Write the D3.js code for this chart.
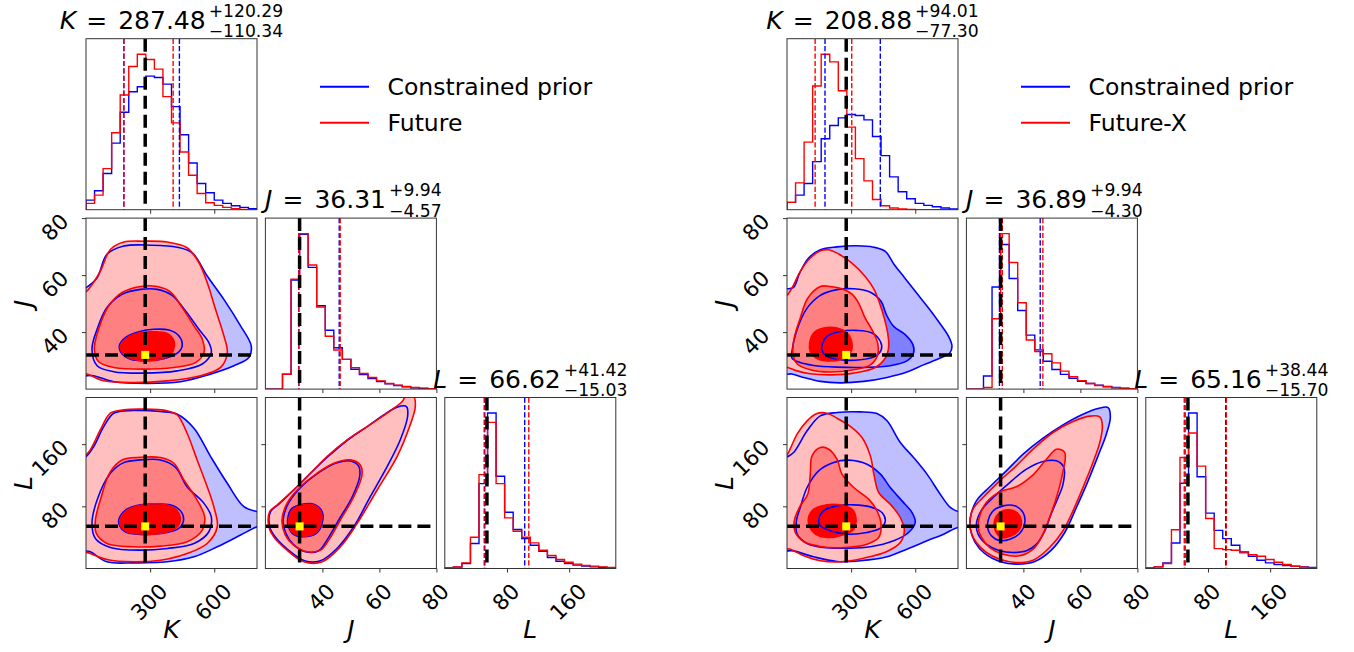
<!DOCTYPE html>
<html><head><meta charset="utf-8">
<script src="https://cdn.jsdelivr.net/npm/d3@7/dist/d3.min.js"></script>
<style>
html,body{margin:0;padding:0;background:#fff;}
svg{display:block;}
text{font-family:"DejaVu Sans",sans-serif;fill:#000;white-space:pre;}
</style></head><body>
<svg id="chart" width="1354" height="652"></svg>
<script>
// ================= DATA =================
const paramNames = ["K", "J", "L"];
const paramDomains = [[0, 800], [20, 80], [0, 220]];
const paramTicks = [[300, 600], [40, 60, 80], [80, 160]];
const binCount = 20;
const truthValues = [277, 32, 54.2];

const legendLeft = ["Constrained prior", "Future"];
const legendRight = ["Constrained prior", "Future-X"];

// titles: median, +upper, -lower (second series)
const titleLeftMedian = [287.48, 36.31, 66.62];
const titleLeftUpper = [120.29, 9.94, 41.42];
const titleLeftLower = [110.34, 4.57, 15.03];
const titleRightMedian = [208.88, 36.89, 65.16];
const titleRightUpper = [94.01, 9.94, 38.44];
const titleRightLower = [77.30, 4.30, 15.70];

// 16% / 84% quantiles of the constrained prior
const quantLeftPrior = [[177, 437], [31.7, 45.9], [50.8, 102.8]];
const quantRightPrior = [[177.8, 436.5], [31.6, 45.9], [50.5, 102.8]];

// histograms (20 bins across each domain)
const histLeftPriorK  = [29,57,109,201,294,356,371,403,399,379,311,226,141,79,51,29,19,12,7,3];
const histLeftFutureK = [19,44,124,232,346,432,469,453,424,341,262,174,104,49,21,13,7,3,1,0];
const histLeftPriorJ  = [0,0,45,330,468,368,252,178,125,90,60,44,32,23,16,11,7,4,2,1];
const histLeftFutureJ = [0,0,45,332,470,375,248,160,118,90,65,47,35,25,17,12,8,5,3,1];
const histLeftPriorL  = [2,4,15,75,255,467,277,169,117,90,70,52,33,22,15,10,7,5,3,2];
const histLeftFutureL = [2,5,17,94,282,439,255,152,112,94,77,55,39,27,19,13,9,7,5,3];
const histRightPriorK  = [22,44,79,145,214,254,277,287,284,271,221,163,99,54,33,19,13,9,5,2];
const histRightFutureK = [22,81,204,373,469,446,359,249,154,87,31,12,5,2,1,0,0,0,0,0];
const histRightPriorJ  = [0,0,40,312,442,338,240,165,120,85,60,45,33,24,17,12,8,5,3,1];
const histRightFutureJ = [0,0,5,215,475,387,264,150,115,108,80,55,38,26,17,11,7,4,2,1];
const histRightPriorL  = [2,5,17,77,257,469,277,167,115,90,70,50,37,25,17,12,9,7,5,3];
const histRightFutureL = [1,5,15,117,335,409,309,151,60,57,55,47,42,37,27,19,12,7,4,2];

// contour outlines (levels: inner, middle, outer), in data units
const kjLeftPrior = [
 [[156,35.2],[184,38.1],[247,40.1],[317,41.0],[388,40.7],[434,38.7],[450,35.2],[427,32.6],[364,30.7],[286,30.0],[208,30.5],[169,32.3]],
 [[28,34.0],[52,41.0],[98,48.6],[169,53.3],[255,55.0],[333,55.0],[403,52.9],[466,47.4],[528,41.0],[575,36.3],[586,32.8],[544,28.8],[427,26.4],[270,25.6],[130,26.1],[52,28.2]],
 [[-34,54.4],[0,55.6],[52,59.1],[98,67.3],[177,70.2],[302,70.5],[427,69.8],[497,67.8],[567,59.7],[645,51.5],[723,42.2],[773,35.2],[762,31.1],[692,28.2],[567,24.9],[442,22.6],[286,22.0],[130,22.6],[36,24.7],[-34,25.3]]
];
const kjLeftFuture = [
 [[161,35.2],[200,38.4],[255,39.8],[317,40.1],[380,39.5],[408,37.5],[414,35.2],[398,32.3],[348,30.5],[270,30.0],[200,31.0],[169,32.8]],
 [[39,34.0],[59,41.0],[106,49.2],[169,53.9],[255,56.0],[333,56.0],[395,54.1],[450,48.6],[505,42.2],[544,37.5],[552,32.8],[512,29.3],[411,27.6],[270,27.0],[130,27.6],[59,29.6]],
 [[-34,51.5],[12,55.0],[67,61.4],[114,69.0],[177,71.6],[270,71.9],[380,71.6],[473,69.6],[528,64.4],[567,57.4],[606,48.0],[645,38.7],[661,32.8],[630,27.6],[536,24.7],[380,22.9],[223,22.3],[83,22.9],[5,25.3],[-34,25.8]]
];
const klLeftPrior = [
 [[153,62.3],[189,76.1],[255,82.1],[333,82.9],[411,80.4],[450,70.9],[455,60.2],[427,50.3],[348,45.1],[255,43.8],[183,47.3],[158,54.6]],
 [[28,58.0],[52,88.1],[114,122.5],[177,136.2],[255,139.7],[348,139.7],[419,130.2],[473,105.3],[552,83.8],[586,66.6],[575,47.3],[505,32.2],[380,25.8],[255,23.6],[114,27.1],[44,38.7]],
 [[-34,141.8],[0,144.0],[36,156.9],[83,182.6],[130,199.8],[223,203.3],[348,202.0],[427,198.5],[505,180.5],[583,144.0],[661,109.6],[739,79.5],[802,73.1],[848,70.9],[848,58.0],[800,53.7],[723,43.0],[614,27.9],[505,15.0],[380,8.6],[223,7.3],[98,8.6],[20,21.5],[-34,25.8]]
];
const klLeftFuture = [
 [[158,60.2],[184,73.1],[239,80.4],[302,82.9],[380,81.6],[427,74.3],[442,63.2],[419,51.6],[348,45.1],[255,44.3],[192,47.3],[164,53.7]],
 [[44,62.3],[67,88.1],[114,124.6],[169,139.7],[255,143.1],[348,142.7],[411,135.4],[458,113.9],[520,88.1],[555,66.6],[544,49.4],[473,34.4],[348,28.8],[223,27.9],[98,32.2],[48,45.1]],
 [[-34,133.2],[20,152.6],[67,178.3],[114,199.8],[177,204.1],[270,205.0],[380,202.8],[427,197.7],[473,174.0],[520,139.7],[567,105.3],[598,79.5],[614,53.7],[567,32.2],[473,19.3],[348,10.7],[223,8.6],[98,11.6],[20,19.3],[-34,25.8]]
];
const jlLeftPrior = [
 [[27.8,62.3],[29.0,76.1],[32.9,82.5],[37.2,82.5],[39.9,73.1],[39.9,58.0],[37.9,45.1],[33.5,40.8],[29.7,44.3],[28.1,53.7]],
 [[26.2,62.3],[28.2,84.6],[32.9,106.1],[38.7,123.3],[44.6,135.4],[49.8,138.4],[52.7,131.9],[53.1,119.0],[50.4,91.6],[45.7,62.3],[41.6,36.5],[38.7,22.8],[34.0,21.5],[29.7,31.4],[27.3,44.3]],
 [[21.8,73.1],[24.7,82.9],[30.5,103.1],[36.4,124.6],[42.2,144.8],[49.2,166.3],[55.7,182.6],[61.5,197.7],[66.2,207.6],[69.5,208.4],[69.9,195.5],[67.3,165.4],[62.7,131.1],[56.8,92.4],[51.0,53.7],[45.1,25.8],[39.3,9.9],[34.0,9.5],[27.8,24.5],[23.2,41.7],[21.5,53.7]]
];
const jlLeftFuture = [
 [[28.2,62.3],[29.4,75.2],[32.9,81.6],[37.0,81.6],[39.5,73.1],[39.5,58.0],[37.5,46.0],[33.5,41.7],[29.9,45.1],[28.3,53.7]],
 [[25.8,62.3],[27.6,83.8],[32.3,105.3],[38.1,122.5],[44.0,135.4],[49.8,139.7],[53.3,133.2],[53.9,120.3],[51.0,92.4],[46.3,62.3],[42.2,36.5],[39.3,23.6],[34.6,21.5],[29.9,30.1],[27.0,43.0]],
 [[21.5,73.1],[24.1,81.6],[29.9,101.0],[35.8,122.5],[41.6,144.0],[48.7,165.4],[55.7,182.6],[62.7,199.8],[68.0,214.9],[69.2,221.3],[72.0,221.3],[72.6,208.0],[70.6,182.6],[66.2,144.0],[59.2,101.0],[52.2,58.0],[46.3,27.9],[39.9,8.6],[33.5,8.6],[27.6,23.6],[22.9,40.8],[21.2,53.7]]
];
const kjRightPrior = [
 [[164,35.6],[187,38.5],[249,40.2],[327,40.6],[398,39.7],[437,36.7],[441,33.8],[413,31.5],[343,30.3],[249,30.3],[187,31.5],[164,33.5]],
 [[23,33.2],[44,40.2],[94,48.4],[156,52.9],[234,54.9],[312,55.2],[390,54.0],[440,50.8],[465,46.1],[499,42.0],[553,39.1],[589,35.6],[592,32.6],[561,29.9],[483,28.2],[359,27.6],[234,27.7],[125,28.3],[55,29.5],[23,30.9]],
 [[-31,55.2],[0,55.2],[31,55.7],[59,60.7],[101,66.0],[156,68.9],[234,69.9],[327,70.3],[405,69.8],[460,68.3],[502,63.6],[549,59.2],[600,54.3],[663,48.4],[714,43.2],[756,38.5],[772,35.0],[761,32.6],[717,30.9],[639,28.5],[561,26.0],[468,24.1],[359,22.7],[249,22.2],[156,22.7],[78,24.1],[23,25.3],[-31,25.6]]
];
const kjRightFuture = [
 [[106,36.1],[125,39.7],[171,41.4],[234,41.4],[281,39.7],[304,36.1],[296,32.6],[257,30.6],[187,29.9],[133,31.1],[109,33.2]],
 [[156,56.0],[203,56.0],[257,55.2],[304,53.3],[335,50.2],[366,44.9],[402,40.2],[424,36.1],[424,32.0],[390,28.5],[312,26.8],[203,26.0],[109,26.8],[47,28.9],[28,32.0],[34,37.9],[62,44.9],[97,51.9]],
 [[-31,51.9],[0,52.9],[31,56.6],[62,61.3],[109,66.0],[156,68.5],[195,68.9],[242,67.4],[304,64.2],[366,59.5],[408,54.9],[433,50.2],[455,44.9],[471,39.7],[476,35.0],[460,30.9],[413,27.6],[312,25.6],[203,25.0],[109,25.4],[47,26.4],[0,27.7],[-31,28.0]]
];
const klRightPrior = [
 [[148,61.3],[171,74.2],[234,80.6],[312,81.9],[390,79.3],[444,72.0],[460,61.3],[437,51.9],[374,46.3],[281,44.2],[203,48.5],[156,54.9]],
 [[62,78.5],[94,104.2],[148,125.6],[218,136.4],[288,139.4],[374,134.2],[437,121.4],[483,104.2],[538,87.0],[585,72.0],[600,59.2],[569,46.3],[499,35.6],[390,27.9],[281,26.2],[171,27.0],[94,32.2],[47,44.2],[44,61.3]],
 [[-31,142.8],[0,143.6],[31,149.2],[94,177.1],[156,196.4],[234,200.7],[343,201.5],[421,199.4],[468,190.0],[530,162.1],[592,142.8],[655,121.4],[717,95.6],[764,78.5],[800,73.3],[842,72.0],[842,52.7],[800,52.7],[733,44.2],[655,35.6],[561,24.9],[468,15.0],[343,9.9],[234,9.0],[125,15.0],[31,22.7],[-31,24.9]]
];
const klRightFuture = [
 [[101,65.6],[125,76.3],[187,81.9],[249,81.9],[304,76.3],[323,63.5],[312,50.6],[265,43.3],[187,39.9],[133,44.2],[104,54.9]],
 [[156,155.7],[195,153.5],[234,140.6],[257,121.4],[312,104.2],[382,89.2],[421,74.2],[440,57.0],[429,39.9],[374,31.3],[265,27.0],[156,28.3],[78,34.7],[39,46.3],[34,61.3],[62,80.6],[97,95.6],[109,121.4],[117,144.9]],
 [[-31,140.6],[0,146.2],[19,156.5],[47,172.8],[94,190.0],[140,199.4],[187,199.8],[234,193.4],[304,181.4],[351,168.5],[390,144.9],[408,119.2],[429,97.8],[483,82.8],[530,65.6],[549,48.5],[530,33.4],[468,21.9],[359,13.3],[249,8.6],[156,9.9],[78,16.3],[16,24.9],[-31,27.9]]
];
const jlRightPrior = [
 [[27.6,61.3],[29.4,74.2],[32.9,80.6],[37.0,80.6],[39.9,72.0],[40.5,59.2],[38.9,46.0],[35.5,38.0],[31.5,36.0],[28.8,42.0],[27.6,50.0]],
 [[23.5,57.0],[25.3,75.0],[29.4,91.3],[35.2,110.6],[41.1,127.8],[46.9,137.6],[51.6,138.5],[54.2,129.9],[53.9,108.5],[52.2,91.3],[49.8,70.8],[47.5,48.5],[44.6,31.3],[41.1,22.7],[36.4,20.6],[31.7,22.7],[27.0,31.3],[24.1,44.2]],
 [[21.4,65.6],[23.5,87.0],[28.2,105.1],[34.0,125.6],[39.9,147.1],[46.9,167.7],[53.9,184.8],[60.9,198.5],[66.2,205.8],[69.7,207.1],[70.5,194.2],[69.1,172.8],[66.2,144.9],[62.7,112.8],[58.6,78.5],[54.5,46.3],[49.8,23.6],[44.0,9.0],[37.5,5.6],[31.7,9.0],[26.4,19.3],[22.9,34.7],[21.4,50.6]]
];
const jlRightFuture = [
 [[29.7,57.0],[31.1,69.9],[34.6,75.5],[38.1,70.8],[39.3,61.3],[38.7,50.6],[35.8,42.0],[32.3,39.9],[30.3,47.6]],
 [[24.1,52.7],[24.7,67.8],[27.0,84.9],[31.7,98.6],[37.5,105.1],[43.4,120.5],[48.1,140.6],[51.6,153.5],[54.5,149.2],[53.7,121.4],[51.6,91.3],[49.2,65.6],[46.3,39.9],[43.4,24.9],[38.7,16.3],[32.9,18.4],[28.2,27.0],[25.3,39.9]],
 [[21.2,57.0],[22.3,76.3],[25.8,91.3],[31.7,112.8],[37.5,132.1],[43.4,153.5],[50.4,175.0],[57.4,189.1],[63.3,196.0],[66.8,195.1],[67.7,183.5],[66.8,162.1],[64.4,136.4],[60.9,104.2],[57.4,74.2],[53.9,48.5],[49.2,27.0],[43.4,10.7],[37.5,7.7],[31.7,12.0],[27.0,20.6],[23.5,33.4],[21.8,45.0]]
];

// ================= LAYOUT / STYLE =================
const SIZE = 171, PITCH = 179.4, TOP = 38.7, FIGX = [86, 787];
const BLUE = "#0000ff", RED = "#ff0000", FRAME = "#333";
const blueFills = ["#0000ff", "#8080ff", "#bfbfff"];
const redFills = ["#ff0000", "#ff8080", "#ffbfbf"];
const TICK_FONT = 21.5, LABEL_FONT = 25, TITLE_FONT = 25, SUP_FONT = 17.2, LEGEND_FONT = 23.5;

const figs = [
  { hists: [[histLeftPriorK, histLeftFutureK], [histLeftPriorJ, histLeftFutureJ], [histLeftPriorL, histLeftFutureL]],
    contours: { "1-0": [kjLeftPrior, kjLeftFuture], "2-0": [klLeftPrior, klLeftFuture], "2-1": [jlLeftPrior, jlLeftFuture] },
    qPrior: quantLeftPrior, med: titleLeftMedian, up: titleLeftUpper, lo: titleLeftLower, legend: legendLeft },
  { hists: [[histRightPriorK, histRightFutureK], [histRightPriorJ, histRightFutureJ], [histRightPriorL, histRightFutureL]],
    contours: { "1-0": [kjRightPrior, kjRightFuture], "2-0": [klRightPrior, klRightFuture], "2-1": [jlRightPrior, jlRightFuture] },
    qPrior: quantRightPrior, med: titleRightMedian, up: titleRightUpper, lo: titleRightLower, legend: legendRight }
];

const svg = d3.select("#chart");
const defs = svg.append("defs");

function vline(g, x, y0, y1, color, w, dash) {
  g.append("line").attr("x1", x).attr("x2", x).attr("y1", y0).attr("y2", y1)
    .attr("stroke", color).attr("stroke-width", w).attr("stroke-dasharray", dash);
}
function hline(g, y, x0, x1, color, w, dash) {
  g.append("line").attr("x1", x0).attr("x2", x1).attr("y1", y).attr("y2", y)
    .attr("stroke", color).attr("stroke-width", w).attr("stroke-dasharray", dash);
}

function drawTitle(g, cx, baseY, name, med, up, lo) {
  const t = g.append("g");
  const main = t.append("text").attr("x", 0).attr("y", baseY).style("font-size", TITLE_FONT + "px");
  main.append("tspan").style("font-style", "italic").text(name);
  main.append("tspan").attr("dx", 10).text("=");
  main.append("tspan").attr("dx", 11).text(med.toFixed(2));
  const mb = main.node().getBBox();
  const sx = mb.x + mb.width + 3;
  const sup = t.append("text").attr("x", sx).attr("y", baseY - 12).style("font-size", SUP_FONT + "px").text("+" + up.toFixed(2));
  const sub = t.append("text").attr("x", sx).attr("y", baseY + 8.5).style("font-size", SUP_FONT + "px").text("\u2212" + lo.toFixed(2));
  const w = Math.max(sup.node().getBBox().width, sub.node().getBBox().width);
  const total = sx + w - mb.x;
  t.attr("transform", `translate(${cx - total / 2 - mb.x},0)`);
}

function tickLabelWidth(g, s) {
  const t = g.append("text").style("font-size", TICK_FONT + "px").text(s);
  const w = t.node().getComputedTextLength();
  t.remove();
  return w;
}

figs.forEach((fig, f) => {
  const g = svg.append("g");
  const xs = paramDomains.map((d, i) => d3.scaleLinear().domain(d).range([FIGX[f] + i * PITCH, FIGX[f] + i * PITCH + SIZE]));
  const ys = paramDomains.map((d, j) => d3.scaleLinear().domain(d).range([TOP + j * PITCH + SIZE, TOP + j * PITCH]));
  const futureQ = fig.med.map((m, i) => [m - fig.lo[i], m + fig.up[i]]);

  for (let r = 0; r < 3; r++) for (let c = 0; c <= r; c++) {
    const x0 = FIGX[f] + c * PITCH, y0 = TOP + r * PITCH;
    const id = `clip${f}${r}${c}`;
    defs.append("clipPath").attr("id", id).append("rect")
      .attr("x", x0).attr("y", y0).attr("width", SIZE).attr("height", SIZE);
    const pg = g.append("g");
    const inner = pg.append("g").attr("clip-path", `url(#${id})`);
    const xsc = xs[c];

    if (r === c) {
      const hs = fig.hists[c];
      const ymax = d3.max(hs.flat()) * 1.1;
      const yh = d3.scaleLinear().domain([0, ymax]).range([y0 + SIZE, y0]);
      const dom = paramDomains[c];
      const bw = (dom[1] - dom[0]) / binCount;
      const lineGen = d3.line().x(d => xsc(d[0])).y(d => yh(d[1]));
      hs.forEach((h, s) => {
        const pts = [[dom[0], 0]];
        h.forEach((v, k) => { pts.push([dom[0] + k * bw, v]); pts.push([dom[0] + (k + 1) * bw, v]); });
        pts.push([dom[1], 0]);
        inner.append("path").attr("d", lineGen(pts)).attr("fill", "none")
          .attr("stroke", s === 0 ? BLUE : RED).attr("stroke-width", 1.4);
      });
      fig.qPrior[c].forEach(q => vline(inner, xsc(q), y0, y0 + SIZE, BLUE, 1.4, "5.2,2.2"));
      futureQ[c].forEach(q => vline(inner, xsc(q), y0, y0 + SIZE, RED, 1.4, "5.2,2.2"));
      vline(inner, xsc(truthValues[c]), y0, y0 + SIZE, "#000", 3.5, "13,6");
      drawTitle(g, x0 + SIZE / 2, y0 - 10, paramNames[c], fig.med[c], fig.up[c], fig.lo[c]);
    } else {
      const ysc = ys[r];
      const [prior, future] = fig.contours[`${r}-${c}`];
      const lg = d3.line().x(d => xsc(d[0])).y(d => ysc(d[1])).curve(d3.curveCatmullRomClosed.alpha(0.5));
      [2, 1, 0].forEach(l => inner.append("path").attr("d", lg(prior[l])).attr("fill", blueFills[l]).attr("stroke", "none"));
      [2, 1, 0].forEach(l => inner.append("path").attr("d", lg(future[l])).attr("fill", redFills[l]).attr("stroke", "none"));
      [2, 1, 0].forEach(l => inner.append("path").attr("d", lg(prior[l])).attr("fill", "none").attr("stroke", BLUE).attr("stroke-width", 1.6));
      [2, 1, 0].forEach(l => inner.append("path").attr("d", lg(future[l])).attr("fill", "none").attr("stroke", RED).attr("stroke-width", 1.6));
      vline(inner, xsc(truthValues[c]), y0, y0 + SIZE, "#000", 3.5, "13,6");
      hline(inner, ysc(truthValues[r]), x0, x0 + SIZE, "#000", 3.5, "13,6");
      inner.append("rect").attr("x", xsc(truthValues[c]) - 4).attr("y", ysc(truthValues[r]) - 4)
        .attr("width", 8).attr("height", 8).attr("fill", "#ffff00");
      const ay = pg.append("g").attr("transform", `translate(${x0},0)`)
        .call(d3.axisLeft(ysc).tickValues(paramTicks[r]).tickSize(4).tickSizeOuter(0).tickFormat(""));
      ay.select(".domain").remove();
      ay.selectAll("line").attr("stroke", FRAME);
      if (c === 0) {
        paramTicks[r].forEach(v => {
          const s = String(v);
          const w = tickLabelWidth(pg, s);
          const box = (w + 15.5) * 0.7071;
          const cx = x0 - 16 - box / 2, cy = ysc(v) - 6 + box / 2;
          pg.append("text").attr("x", cx).attr("y", cy).attr("text-anchor", "middle")
            .attr("dominant-baseline", "central").style("font-size", TICK_FONT + "px")
            .attr("transform", `rotate(-45,${cx},${cy})`).text(s);
        });
        pg.append("text").attr("transform", `translate(${x0 - 54},${y0 + SIZE / 2}) rotate(-90)`)
          .attr("text-anchor", "middle").style("font-size", LABEL_FONT + "px").style("font-style", "italic")
          .text(paramNames[r]);
      }
    }
    pg.append("rect").attr("x", x0).attr("y", y0).attr("width", SIZE).attr("height", SIZE)
      .attr("fill", "none").attr("stroke", FRAME).attr("stroke-width", 1);
    const ax = pg.append("g").attr("transform", `translate(0,${y0 + SIZE})`)
      .call(d3.axisBottom(xsc).tickValues(paramTicks[c]).tickSize(4).tickSizeOuter(0).tickFormat(""));
    ax.select(".domain").remove();
    ax.selectAll("line").attr("stroke", FRAME);
    if (r === 2) {
      paramTicks[c].forEach(v => {
        const s = String(v);
        const w = tickLabelWidth(pg, s);
        const box = (w + 15.5) * 0.7071;
        const cx = xsc(v) - 1, cy = y0 + SIZE + 13.5 + box / 2;
        pg.append("text").attr("x", cx).attr("y", cy).attr("text-anchor", "middle")
          .attr("dominant-baseline", "central").style("font-size", TICK_FONT + "px")
          .attr("transform", `rotate(-45,${cx},${cy})`).text(s);
      });
      pg.append("text").attr("x", x0 + SIZE / 2).attr("y", 638).attr("text-anchor", "middle")
        .style("font-size", LABEL_FONT + "px").style("font-style", "italic").text(paramNames[c]);
    }
  }

  const legY = [86.7, 122.7];
  fig.legend.forEach((name, s) => {
    const col = s === 0 ? BLUE : RED;
    hline(g, legY[s], FIGX[f] + 234, FIGX[f] + 283, col, 2, null);
    g.append("text").attr("x", FIGX[f] + 301.5).attr("y", legY[s]).attr("dominant-baseline", "central")
      .style("font-size", LEGEND_FONT + "px").text(name);
  });
});
</script></body></html>
